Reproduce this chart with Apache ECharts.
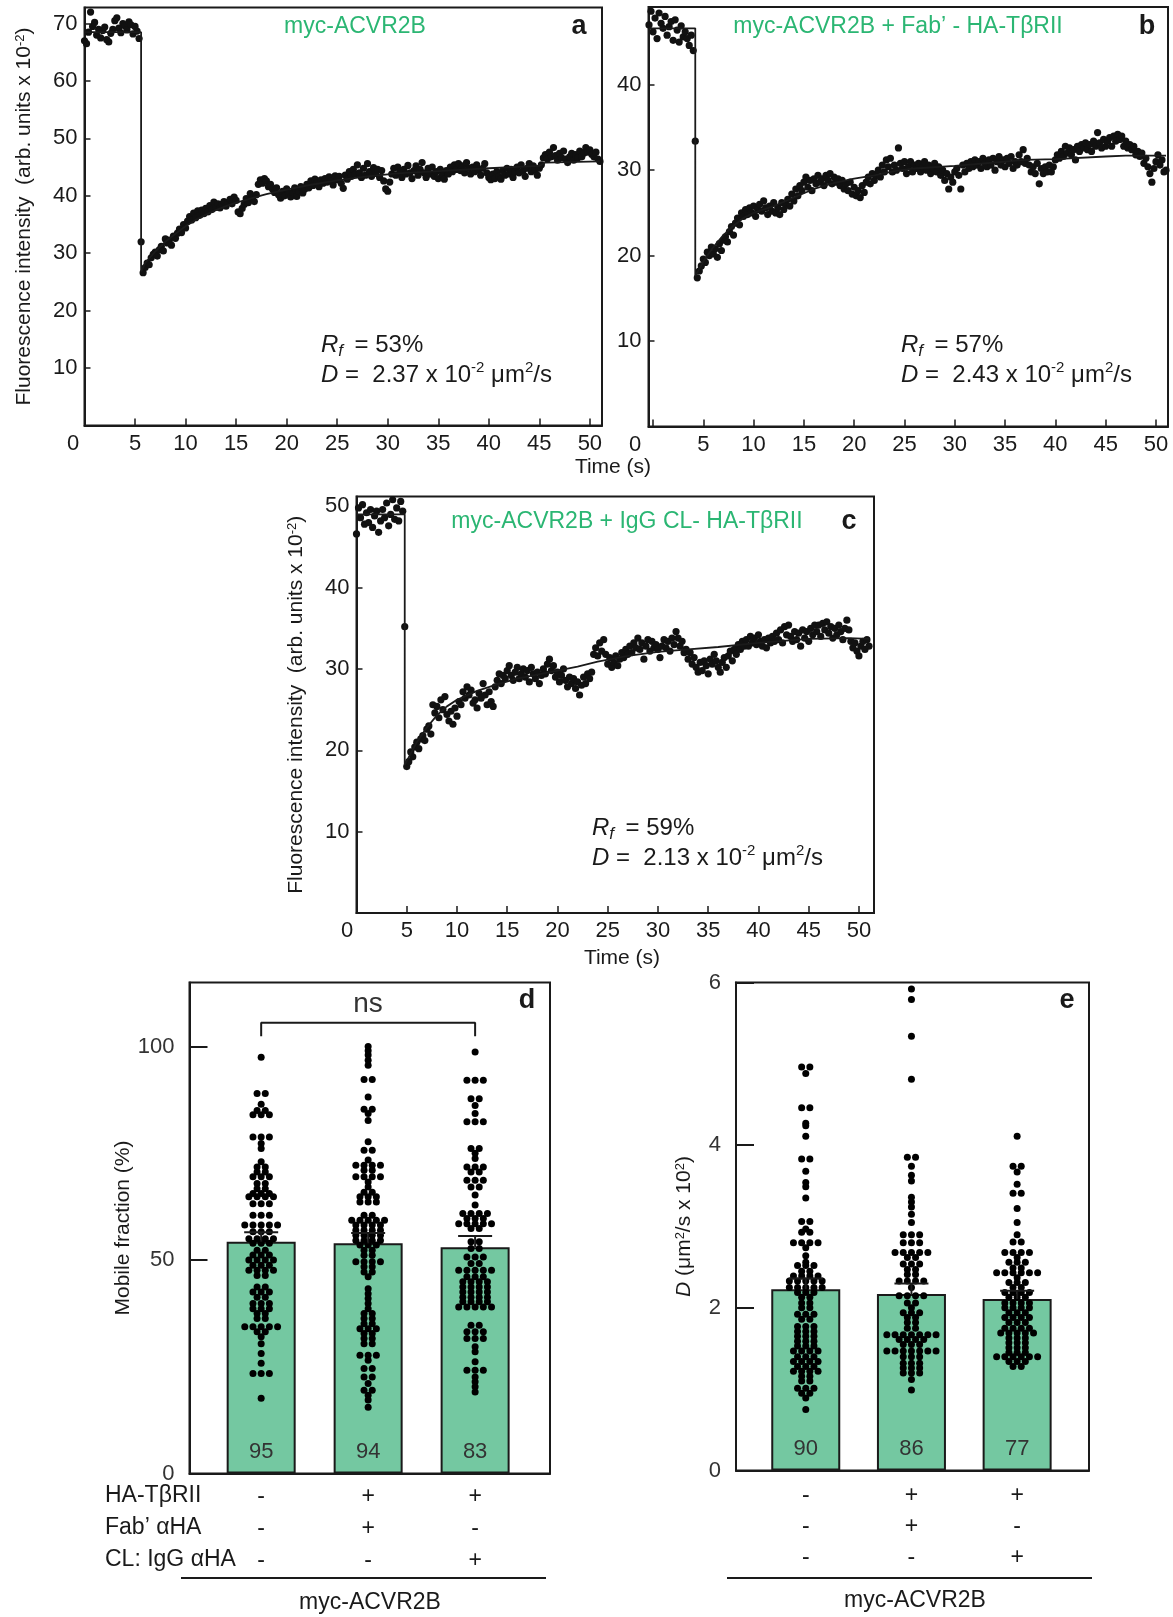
<!DOCTYPE html>
<html lang="en">
<head>
<meta charset="UTF-8">
<title>FRAP of myc-ACVR2B</title>
<script src="https://cdn.jsdelivr.net/npm/echarts@6/dist/echarts.min.js"></script>
<style>
  html, body { margin: 0; padding: 0; background: #fff; }
  #chart { width: 1173px; height: 1617px; }
</style>
</head>
<body>
<div id="chart"></div>
<script>
// frame interval of the FRAP recordings (s)
var frameStep = 0.2;
var timeTicks = [0, 5, 10, 15, 20, 25, 30, 35, 40, 45, 50];

// panel a: myc-ACVR2B
var intensityTicksA = [10, 20, 30, 40, 50, 60, 70];
var preStartA = 0;
var preA = [67.0, 66.5, 68.5, 72.0, 69.5, 70.2, 68.0, 69.0, 67.5, 68.8,
  69.4, 67.2, 66.8, 68.3, 69.0, 70.5, 71.0, 69.2, 68.4, 70.0,
  69.6, 68.9, 70.3, 69.8, 68.2, 69.5, 68.7, 67.4];
var postStartA = 5.6;
var postA = [32.0, 26.6, 27.5, 28.3, 28.0, 29.2, 29.8, 30.2, 29.5, 30.6,
  31.2, 30.4, 32.5, 31.8, 32.3, 31.4, 33.0, 32.6, 33.5, 34.2,
  33.6, 35.0, 34.4, 35.6, 36.4, 35.8, 37.0, 36.2, 37.4, 36.6,
  37.5, 36.9, 37.8, 37.2, 38.3, 37.6, 38.9, 38.0, 38.6, 37.9,
  38.5, 39.0, 38.2, 38.8, 39.4, 38.6, 39.8, 39.2, 37.2, 36.9,
  37.8, 38.5, 39.5, 38.8, 40.4, 39.6, 39.0, 40.2, 42.0, 42.8,
  42.2, 43.0, 42.6, 41.6, 42.0, 41.2, 40.6, 41.4, 40.2, 39.6,
  40.8, 40.0, 41.2, 40.4, 39.8, 40.6, 41.4, 39.9, 40.8, 41.6,
  40.5, 41.2, 42.0, 41.4, 42.6, 41.8, 42.9, 42.3, 41.6, 42.8,
  42.2, 43.0, 42.4, 43.3, 42.6, 41.9, 43.5, 42.8, 43.4, 42.2,
  41.3, 43.6, 42.9, 44.2, 43.4, 44.6, 43.8, 45.4, 44.0, 43.2,
  44.8, 43.6, 45.6, 44.2, 43.4, 44.9, 43.9, 44.6, 43.2, 44.4,
  42.6, 41.2, 40.8, 42.4, 43.8, 44.8, 43.6, 45.0, 44.2, 43.2,
  44.6, 43.8, 45.3, 44.0, 43.0, 44.4, 45.2, 43.6, 44.6, 45.8,
  44.0, 43.2, 44.8, 43.8, 45.0, 43.4, 44.2, 43.0, 44.6, 43.6,
  42.9, 44.4, 43.8, 45.0, 44.2, 45.4, 44.6, 45.6, 44.4, 45.2,
  44.0, 45.8, 44.8, 43.8, 45.0, 44.2, 45.4, 44.6, 43.6, 44.8,
  45.6, 44.0, 43.2, 42.8, 43.8, 43.0, 44.2, 43.4, 42.9, 44.4,
  43.6, 44.8, 43.8, 44.6, 43.2, 44.2, 45.0, 44.0, 45.4, 44.4,
  43.4, 44.8, 45.6, 44.2, 45.2, 44.6, 43.6, 44.8, 45.4, 46.6,
  47.2, 46.4, 47.6, 46.8, 48.4, 47.0, 46.2, 47.4, 46.6, 47.8,
  46.4, 45.8, 46.8, 47.4, 46.2, 47.2, 46.6, 47.8, 46.8, 47.4,
  48.4, 47.6, 48.0, 47.2, 46.8, 47.6, 46.4, 46.0];
var fitA = [[0, 68.5], [5.6, 68.5], [5.6, 26.8], [6, 28.3], [7, 30.3], [8, 32.0], [9, 33.4],
  [10, 34.7], [11, 35.8], [12, 36.7], [13, 37.5], [14, 38.2], [15, 38.8], [16, 39.3],
  [17, 39.8], [18, 40.3], [20, 41.1], [22, 41.8], [25, 42.7], [28, 43.4], [31, 43.9],
  [35, 44.3], [40, 44.8], [45, 45.2], [45.6, 45.8], [51, 46.0]];

// panel b: myc-ACVR2B + Fab' - HA-TβRII
var intensityTicksB = [10, 20, 30, 40];
var preStartB = -0.4;
var preB = [47.0, 48.6, 46.2, 47.8, 45.4, 48.4, 47.2, 46.6, 48.0, 45.8,
  46.8, 47.4, 45.2, 47.6, 46.4, 45.0, 46.9, 45.6, 46.2, 45.4,
  44.6, 45.8, 44.0];
var postStartB = 4.2;
var postB = [33.4,
  17.4, 18.2, 18.8, 19.6, 19.2, 20.4, 20.0, 21.0, 20.2, 20.8,
  19.8, 21.4, 20.6, 21.8, 22.2, 21.6, 22.8, 23.4, 22.4, 23.8,
  24.4, 23.6, 25.0, 24.6, 25.4, 24.8, 25.6, 25.0, 25.8, 24.6,
  25.4, 26.0, 25.2, 26.4, 25.6, 24.8, 25.8, 25.2, 26.2, 25.0,
  25.6, 24.8, 26.2, 25.4, 26.0, 26.6, 25.8, 27.2, 26.4, 27.8,
  27.0, 28.2, 27.6, 28.6, 29.2, 28.0, 28.8, 27.6, 29.0, 28.4,
  29.4, 28.6, 29.0, 28.2, 29.4, 28.8, 29.6, 28.4, 29.2, 28.6,
  29.0, 28.2, 28.8, 27.8, 28.4, 27.6, 28.6, 27.2, 28.0, 27.0,
  27.6, 26.8, 28.2, 27.4, 28.6, 29.2, 28.4, 29.6, 28.8, 29.4,
  30.0, 29.2, 30.6, 29.8, 31.2, 30.4, 31.4, 29.8, 30.6, 30.0,
  32.6, 30.8, 30.2, 31.0, 29.6, 30.4, 31.0, 29.8, 30.6, 30.2,
  30.8, 29.8, 30.4, 31.0, 30.0, 30.6, 29.6, 30.2, 30.8, 29.8,
  30.4, 29.4, 30.0, 28.8, 29.6, 27.8, 29.2, 28.6, 29.8, 30.2,
  29.4, 27.8, 30.6, 29.8, 30.8, 30.2, 31.0, 30.4, 31.2, 30.6,
  31.0, 30.2, 31.4, 30.8, 30.4, 31.2, 30.6, 31.4, 30.0, 31.0,
  31.6, 30.6, 31.2, 30.4, 31.4, 30.8, 31.6, 30.2, 31.0, 30.6,
  31.8, 31.0, 32.4, 30.8, 31.4, 30.6, 29.8, 30.4, 29.6, 30.8,
  28.4, 30.2, 29.6, 30.4, 29.8, 30.6, 29.8, 30.4, 31.2, 31.8,
  31.4, 32.2, 31.6, 32.8, 32.0, 32.6, 31.8, 32.4, 31.2, 32.8,
  32.2, 33.0, 32.6, 33.2, 32.4, 33.0, 32.2, 33.4, 32.8, 34.4,
  33.2, 32.6, 33.6, 32.8, 33.4, 33.8, 32.8, 34.0, 33.4, 34.2,
  33.6, 34.0, 32.8, 33.4, 32.6, 33.0, 32.4, 32.8, 31.8, 32.2,
  31.6, 32.0, 30.8, 31.4, 30.4, 29.6, 28.6, 30.2, 31.0, 31.8,
  30.6, 31.2, 29.8, 30.0];
var fitB = [[-0.4, 46.6], [4.2, 46.6], [4.2, 17.6], [5, 19.3], [6, 21.0], [7, 22.4], [8, 23.5],
  [9, 24.4], [10, 25.0], [12, 25.8], [14, 26.8], [16, 27.8], [18, 28.5], [20, 29.0],
  [22, 29.4], [24, 29.9], [26, 30.2], [30, 30.5], [34, 30.9], [37, 31.2], [40, 31.3],
  [45, 31.6], [47, 31.7], [51, 31.7]];

// panel c: myc-ACVR2B + IgG CL- HA-TβRII
var intensityTicksC = [10, 20, 30, 40, 50];
var preStartC = 0;
var preC = [46.6, 49.8, 48.6, 50.2, 47.8, 49.2, 48.0, 49.6, 47.4, 48.8,
  49.4, 46.8, 48.2, 49.6, 48.6, 50.4, 47.6, 49.0, 50.8, 48.4,
  49.8, 48.2, 50.6, 49.4];
var postStartC = 4.8;
var postC = [35.2, 18.0, 18.6, 19.8, 19.2, 20.4, 21.0, 20.2, 21.4, 21.8,
  21.2, 22.6, 23.0, 22.0, 25.6, 24.6, 25.4, 24.0, 26.2, 25.0,
  26.6, 24.4, 23.6, 24.8, 23.2, 25.2, 24.2, 26.0, 25.6, 27.2,
  26.4, 27.8, 26.8, 27.4, 25.8, 26.2, 25.2, 27.0, 26.4, 28.2,
  26.8, 25.6, 27.2, 26.0, 25.4, 27.8, 28.6, 29.4, 28.2, 29.2,
  28.8, 29.8, 30.4, 29.2, 28.6, 29.6, 30.2, 28.8, 29.4, 30.0,
  29.0, 29.8, 28.4, 30.2, 29.4, 28.8, 29.6, 28.2, 29.2, 30.0,
  29.4, 30.6, 31.2, 29.8, 30.4, 29.0, 29.6, 28.4, 29.2, 30.0,
  28.6, 27.8, 29.0, 28.2, 28.8, 27.6, 28.4, 26.8, 28.0, 29.0,
  28.2, 29.4, 28.8, 29.6, 31.8, 32.6, 31.6, 33.2, 32.2, 33.6,
  31.8, 30.6, 31.4, 30.2, 30.8, 31.6, 30.4, 31.2, 32.0, 31.4,
  32.4, 31.8, 32.8, 32.0, 33.2, 32.6, 33.8, 32.4, 33.2, 31.2,
  32.8, 33.6, 32.2, 33.4, 32.6, 33.0, 32.4, 31.4, 32.8, 33.6,
  32.6, 33.4, 32.2, 33.8, 33.0, 34.6, 33.8, 32.8, 33.4, 32.0,
  32.4, 31.2, 32.0, 30.6, 31.4, 30.2, 29.6, 30.8, 29.8, 31.0,
  30.4, 29.4, 31.2, 30.6, 31.8, 31.0, 30.2, 29.6, 30.8, 31.4,
  30.2, 31.6, 32.2, 31.0, 32.4, 31.8, 33.0, 32.4, 33.4, 32.8,
  33.6, 32.8, 34.0, 33.2, 33.8, 33.0, 34.2, 33.4, 32.8, 33.6,
  32.6, 33.8, 33.2, 34.0, 33.4, 34.4, 33.6, 34.8, 33.2, 35.2,
  34.2, 35.4, 34.0, 33.4, 34.6, 33.6, 34.4, 32.8, 34.8, 33.8,
  34.6, 33.4, 35.0, 34.2, 35.4, 34.6, 35.4, 34.0, 35.6, 34.8,
  35.8, 34.4, 35.2, 33.8, 35.0, 34.2, 35.4, 34.6, 33.6, 35.0,
  36.0, 34.8, 33.4, 32.6, 33.2, 32.2, 31.6, 32.8, 33.4, 32.4,
  33.6, 32.8];
var fitC = [[0, 49.0], [4.8, 49.0], [4.8, 18.2], [6, 21.0], [7, 22.8], [8, 24.3], [9, 25.4],
  [10, 26.2], [12, 27.3], [14, 28.1], [16, 28.8], [18, 29.3], [20, 29.8], [22, 30.3],
  [24, 30.9], [27, 31.6], [30, 32.1], [33, 32.4], [36, 32.7], [40, 33.2], [45, 33.7],
  [49, 33.8], [51, 33.7]];

// panels d and e: three conditions
var haRow = ['-', '+', '+'];
var fabRow = ['-', '+', '-'];
var clRow = ['-', '-', '+'];
var rowNames = ['HA-T\u03b2RII', 'Fab\u2019 \u03b1HA', 'CL: IgG \u03b1HA'];

var mobileMean = [54.3, 53.9, 53.0];
var mobileSem = [2.2, 2.4, 2.6];
var mobileN = [95, 94, 83];
var mobileTicks = [0, 50, 100];
var nsBracket = [[0, 102.4], [0, 105.6], [2, 105.6], [2, 102.4]];
var mobile1 = [97.5, 89, 89, 86.5, 85, 85, 84, 84, 84, 78.8, 78.8, 78.8, 77.3, 76.1, 73,
  71.8, 71.8, 70.6, 70.6, 69.5, 69.5, 69.5, 67.9, 67.9, 66.7, 66.7, 65.6, 65.6, 65.6,
  64.8, 64.8, 64.8, 64.8, 63.2, 63.2, 63.2, 60.5, 60.5, 60.5, 58.2, 58.2, 58.2, 58.2, 58.2,
  56.6, 56.6, 56.6, 55, 55, 55, 55, 53.9, 53.9, 53.9, 52.3, 52.3, 51.2, 51.2, 51.2,
  50, 50, 50, 50, 48.8, 48.8, 48.8, 47.6, 47.6, 47.6, 47.6, 46.4, 46.4, 43.7, 43.7,
  42.5, 42.5, 42.5, 41.3, 41.3, 39.8, 39.8, 39.8, 38.6, 38.6, 38.6, 37.5, 37.5, 36.3, 36.3,
  34.4, 34.4, 34.4, 34.4, 34.4, 33.2, 33.2, 32, 30.4, 28.1, 25.8, 23.4, 23.4, 23.4, 17.6];
var mobile2 = [100, 99, 98, 96.8, 95.6, 92.3, 92.3, 88.2, 85.3, 85.3, 84.3, 82.7, 77.7,
  75.7, 75.7, 73.4, 72.2, 72.2, 72.2, 72.2, 71, 71, 69.5, 69.5, 69.5, 69.5, 68.3, 67.1,
  65.9, 65.9, 64.8, 64.8, 64.8, 63.6, 63.6, 63.6, 60.5, 60.5, 59.3, 59.3, 59.3, 59.3, 59.3,
  58.2, 58.2, 58.2, 58.2, 57, 57, 57, 57, 55.8, 55.8, 55.8, 55.8, 54.6, 54.6, 54.6, 54.6,
  53.5, 53.5, 53.5, 52.3, 52.3, 51.1, 51.1, 49.6, 49.6, 49.6, 49.6, 48.4, 48.4, 47.2, 47.2,
  46.1, 43.3, 42.1, 41, 39.8, 38.6, 37.5, 37.5, 36.3, 36.3, 35.1, 35.1, 33.9, 33.9, 33.9,
  32.8, 32.8, 31.6, 31.6, 30.4, 30.4, 27.7, 27.7, 27.7, 26.5, 24.6, 24.6, 22.6, 22.6,
  21.1, 19.5, 19.5, 18.3, 17.2, 15.5];
var mobile3 = [98.7, 92.1, 92.1, 92.1, 87.8, 87.8, 86.2, 84.3, 82.4, 82.4, 82.4, 76.1, 76.1,
  75, 73.8, 71.8, 71.8, 71.8, 70.6, 70.6, 68.7, 68.7, 68.7, 67.1, 67.1, 65.2, 62.9,
  60.9, 60.9, 60.9, 60.9, 59.7, 59.7, 59.7, 58.5, 58.5, 58.5, 58.5, 58.5, 57.4, 57.4,
  54.3, 54.3, 52.7, 52.7, 50.7, 50.7, 50.7, 49.2, 49.2, 47.6, 47.6, 47.6, 47.6, 47.6,
  46.1, 46.1, 46.1, 44.9, 44.9, 44.9, 44.9, 43.7, 43.7, 43.7, 43.7, 42.5, 42.5, 42.5, 42.5,
  41.3, 41.3, 41.3, 41.3, 40.2, 40.2, 40.2, 40.2, 39, 39, 39, 39, 39, 34.7, 34.7,
  33.2, 33.2, 33.2, 31.6, 31.6, 31.6, 29.7, 28.5, 26.2, 24.2, 24.2, 24.2, 22.6, 21.5,
  20.3, 19.1];

var diffMean = [2.23, 2.17, 2.11];
var diffSem = [0.13, 0.13, 0.10];
var diffN = [90, 86, 77];
var diffTicks = [0, 2, 4, 6];
var diff1 = [4.96, 4.96, 4.88, 4.46, 4.46, 4.27, 4.24, 4.11, 3.83, 3.83, 3.68, 3.54, 3.49,
  3.35, 3.06, 3.06, 2.97, 2.93, 2.93, 2.8, 2.8, 2.8, 2.8, 2.74, 2.64, 2.56, 2.52, 2.52,
  2.52, 2.45, 2.45, 2.39, 2.39, 2.39, 2.39, 2.33, 2.33, 2.33, 2.33, 2.33, 2.25, 2.25,
  2.25, 2.25, 2.25, 2.19, 2.19, 2.19, 2.13, 2.13, 2.06, 2.06, 2.0, 2.0, 1.92, 1.92, 1.92,
  1.86, 1.86, 1.77, 1.77, 1.77, 1.71, 1.71, 1.71, 1.65, 1.65, 1.65, 1.59, 1.59, 1.59,
  1.53, 1.53, 1.53, 1.47, 1.47, 1.47, 1.47, 1.4, 1.4, 1.4, 1.34, 1.34, 1.34, 1.34,
  1.28, 1.28, 1.28, 1.22, 1.22, 1.22, 1.22, 1.16, 1.16, 1.1, 1.1, 1.01, 1.01, 1.01,
  0.95, 0.95, 0.89, 0.75];
var diff2 = [5.92, 5.79, 5.34, 4.81, 3.85, 3.85, 3.74, 3.63, 3.56, 3.36, 3.3, 3.24, 3.15,
  3.05, 2.9, 2.9, 2.9, 2.8, 2.8, 2.8, 2.68, 2.68, 2.68, 2.68, 2.68, 2.62, 2.62, 2.54,
  2.54, 2.54, 2.47, 2.47, 2.41, 2.41, 2.33, 2.33, 2.33, 2.33, 2.25, 2.15, 2.15, 2.15,
  2.15, 2.06, 2.06, 2.0, 1.94, 1.94, 1.94, 1.88, 1.88, 1.82, 1.82, 1.75, 1.75,
  1.67, 1.67, 1.67, 1.67, 1.67, 1.67, 1.67, 1.61, 1.61, 1.61, 1.61, 1.55, 1.55, 1.55,
  1.47, 1.47, 1.47, 1.47, 1.47, 1.47, 1.47, 1.4, 1.4, 1.4, 1.32, 1.32, 1.32, 1.26, 1.26,
  1.26, 1.2, 1.2, 1.2, 1.12, 0.99];
var diff3 = [4.11, 3.74, 3.74, 3.67, 3.52, 3.41, 3.41, 3.22, 3.05, 2.9, 2.81, 2.81, 2.68,
  2.68, 2.68, 2.68, 2.62, 2.56, 2.56, 2.56, 2.49, 2.49, 2.43, 2.43, 2.43, 2.43, 2.43, 2.43,
  2.37, 2.31, 2.31, 2.31, 2.25, 2.25, 2.19, 2.19, 2.19, 2.19, 2.13, 2.13, 2.13, 2.06, 2.06,
  2.06, 2.06, 2.0, 2.0, 2.0, 2.0, 1.94, 1.94, 1.94, 1.88, 1.88, 1.88, 1.88, 1.82, 1.82,
  1.82, 1.75, 1.75, 1.75, 1.75, 1.69, 1.69, 1.69, 1.69, 1.69, 1.63, 1.63, 1.63, 1.57,
  1.57, 1.57, 1.51, 1.51, 1.51, 1.45, 1.45, 1.45, 1.4, 1.4, 1.4, 1.4, 1.4, 1.4, 1.34,
  1.34, 1.34, 1.28, 1.28];

var FONT = '"Liberation Sans", Arial, Helvetica, sans-serif';
var INK = '#1a1a1a';
var GREEN = '#2bb673';
var BAR = '#74c8a1';

// time stamps for a trace that starts at t0
function trace(t0, values) {
  return values.map(function (v, i) {
    return [Math.round((t0 + i * frameStep) * 100) / 100, v];
  });
}

// dot plot: equal values sit side by side, centred on the bar
function swarm(cols, pxPerUnit, gapPx) {
  var out = [];
  cols.forEach(function (col, i) {
    var groups = {};
    var order = [];
    col.forEach(function (v) {
      if (!groups[v]) { groups[v] = 0; order.push(v); }
      groups[v]++;
    });
    order.forEach(function (v) {
      var n = groups[v];
      for (var j = 0; j < n; j++) {
        out.push([i + (j - (n - 1) / 2) * gapPx / pxPerUnit, v]);
      }
    });
  });
  return out;
}

var gridBox = [
  { left: 84.5, top: 7.5, width: 517.5, height: 418 },
  { left: 648.5, top: 7, width: 519.5, height: 419.5 },
  { left: 356.5, top: 496.5, width: 517.5, height: 416.5 },
  { left: 189.5, top: 982.5, width: 360.5, height: 491 },
  { left: 736, top: 982.5, width: 353, height: 488 }
];
var xRange = [[0, 51.2], [-0.45, 51.2], [0, 51.5], [-0.67, 2.70], [-0.66, 2.68]];

function axisLine() {
  return { show: true, onZero: false, lineStyle: { color: INK, width: 2 } };
}

function timeAxis(gi, zeroPad) {
  return {
    type: 'value', gridIndex: gi, min: xRange[gi][0], max: xRange[gi][1],
    axisLine: axisLine(),
    axisTick: { show: true, inside: true, length: 7, customValues: timeTicks,
      lineStyle: { color: INK, width: 1.5 } },
    axisLabel: {
      customValues: timeTicks, color: INK, fontSize: 22, margin: 7, fontFamily: FONT,
      formatter: function (v) { return v === 0 ? '{z|0}' : String(v); },
      rich: { z: { fontSize: 22, color: INK, fontFamily: FONT, padding: [0, zeroPad, 0, 0] } }
    },
    splitLine: { show: false }
  };
}

var intensityName = '{t|Fluorescence intensity  (arb. units x 10}{s|-2}{t|)}';
var nameRich = {
  t: { fontSize: 21, color: INK, fontFamily: FONT },
  s: { fontSize: 13, color: INK, fontFamily: FONT, verticalAlign: 'top' },
  i: { fontSize: 21, color: INK, fontFamily: FONT, fontStyle: 'italic' }
};

function intensityAxis(gi, max, ticks, withName) {
  var ax = {
    type: 'value', gridIndex: gi, min: 0, max: max,
    axisLine: axisLine(),
    axisTick: { show: true, inside: true, length: 6, customValues: ticks,
      lineStyle: { color: INK, width: 1.5 } },
    axisLabel: { customValues: ticks, color: INK, fontSize: 22, margin: 7, fontFamily: FONT },
    splitLine: { show: false }
  };
  if (withName) {
    ax.name = intensityName;
    ax.nameLocation = 'middle';
    ax.nameRotate = 90;
    ax.nameGap = 50;
    ax.nameTextStyle = { rich: nameRich };
  }
  return ax;
}

function groupAxis(gi, lineH, margin) {
  return {
    type: 'value', gridIndex: gi, min: xRange[gi][0], max: xRange[gi][1],
    axisLine: axisLine(),
    axisTick: { show: false },
    axisLabel: {
      customValues: [0, 1, 2], color: INK, fontSize: 23, fontFamily: FONT,
      lineHeight: lineH, margin: margin, verticalAlign: 'top',
      formatter: function (v) { return [haRow[v], fabRow[v], clRow[v]].join('\n'); }
    },
    splitLine: { show: false }
  };
}

function measureAxis(gi, max, ticks, name, gap) {
  return {
    type: 'value', gridIndex: gi, min: 0, max: max,
    axisLine: axisLine(),
    axisTick: { show: true, inside: true, length: 18, customValues: ticks,
      lineStyle: { color: INK, width: 2 } },
    axisLabel: { customValues: ticks, color: '#333', fontSize: 22, margin: 15, fontFamily: FONT },
    splitLine: { show: false },
    name: name, nameLocation: 'middle', nameRotate: 90, nameGap: gap,
    nameTextStyle: { rich: nameRich }
  };
}

function traceSeries(gi, pre, post) {
  return {
    type: 'scatter', xAxisIndex: gi, yAxisIndex: gi, data: pre.concat(post),
    symbolSize: 7.2, itemStyle: { color: '#111', opacity: 1 }, z: 3
  };
}

function fitSeries(gi, fit) {
  return {
    type: 'line', xAxisIndex: gi, yAxisIndex: gi, data: fit, showSymbol: false,
    lineStyle: { color: INK, width: 1.8 }, z: 4
  };
}

function barSeries(gi, means, counts) {
  return {
    type: 'bar', xAxisIndex: gi, yAxisIndex: gi, barWidth: 69,
    data: means.map(function (m, i) { return [i, m]; }),
    itemStyle: { color: BAR, borderColor: INK, borderWidth: 2 },
    label: {
      show: true, position: 'insideBottom', distance: 11, color: '#333',
      fontSize: 22, fontFamily: FONT,
      formatter: function (p) { return String(counts[p.dataIndex]); }
    },
    z: 2
  };
}

function dotSeries(gi, cols) {
  var b = gridBox[gi];
  var pxPerUnit = b.width / (xRange[gi][1] - xRange[gi][0]);
  return {
    type: 'scatter', xAxisIndex: gi, yAxisIndex: gi, data: swarm(cols, pxPerUnit, 8.2),
    symbolSize: 7, itemStyle: { color: '#000', opacity: 1 }, z: 3
  };
}

function errorSeries(gi, means, sems) {
  return {
    type: 'custom', xAxisIndex: gi, yAxisIndex: gi, z: 5,
    data: means.map(function (m, i) { return [i, m, m + sems[i]]; }),
    encode: { x: 0, y: [1, 2] },
    renderItem: function (params, api) {
      var base = api.coord([api.value(0), api.value(1)]);
      var top = api.coord([api.value(0), api.value(2)]);
      var st = { stroke: INK, lineWidth: 2 };
      return {
        type: 'group',
        children: [
          { type: 'line', shape: { x1: base[0], y1: base[1], x2: top[0], y2: top[1] }, style: st },
          { type: 'line', shape: { x1: top[0] - 17, y1: top[1], x2: top[0] + 17, y2: top[1] }, style: st }
        ]
      };
    }
  };
}

function label(x, y, text, size, opts) {
  var s = Object.assign({ text: text, fontSize: size, fontFamily: FONT, fill: INK,
    align: 'center', verticalAlign: 'middle' }, opts || {});
  return { type: 'text', x: x, y: y, style: s, z: 10 };
}

var statRich = {
  i: { fontSize: 24, fontStyle: 'italic', fontFamily: FONT, fill: INK, lineHeight: 30 },
  f: { fontSize: 17, fontStyle: 'italic', fontFamily: FONT, fill: INK, verticalAlign: 'bottom' },
  n: { fontSize: 24, fontFamily: FONT, fill: INK, lineHeight: 30 },
  s: { fontSize: 15, fontFamily: FONT, fill: INK, verticalAlign: 'top' }
};
function stats(x, y, rf, d) {
  return {
    type: 'text', x: x, y: y, z: 10,
    style: {
      text: '{i|R}{f|f}{n| \u2009= ' + rf + '%}\n{i|D}{n| =  ' + d + ' x 10}{s|-2}{n| \u03bcm}{s|2}{n|/s}',
      rich: statRich, align: 'left', verticalAlign: 'top', fill: INK
    }
  };
}

var chart = echarts.init(document.getElementById('chart'), null, { renderer: 'canvas' });

chart.setOption({
  animation: false,
  backgroundColor: '#fff',
  textStyle: { fontFamily: FONT },
  grid: gridBox.map(function (g) {
    return Object.assign({ show: true, borderColor: INK, borderWidth: 2,
      backgroundColor: 'transparent', outerBoundsMode: 'none', containLabel: false }, g);
  }),
  xAxis: [
    timeAxis(0, 23),
    timeAxis(1, 36),
    timeAxis(2, 19),
    groupAxis(3, 32, 7),
    groupAxis(4, 31, 10)
  ],
  yAxis: [
    intensityAxis(0, 72.8, intensityTicksA, true),
    intensityAxis(1, 49.1, intensityTicksB, false),
    intensityAxis(2, 51.2, intensityTicksC, true),
    measureAxis(3, 115, mobileTicks, '{t|Mobile fraction (%)}', 52),
    measureAxis(4, 6, diffTicks, '{i|D}{t| (\u03bcm}{s|2}{t|/s x 10}{s|2}{t|)}', 41)
  ],
  series: [
    traceSeries(0, trace(preStartA, preA), trace(postStartA, postA)),
    fitSeries(0, fitA),
    traceSeries(1, trace(preStartB, preB), trace(postStartB, postB)),
    fitSeries(1, fitB),
    traceSeries(2, trace(preStartC, preC), trace(postStartC, postC)),
    fitSeries(2, fitC),
    barSeries(3, mobileMean, mobileN),
    dotSeries(3, [mobile1, mobile2, mobile3]),
    errorSeries(3, mobileMean, mobileSem),
    {
      type: 'line', xAxisIndex: 3, yAxisIndex: 3, data: nsBracket, showSymbol: false,
      lineStyle: { color: INK, width: 2 }, z: 5
    },
    barSeries(4, diffMean, diffN),
    dotSeries(4, [diff1, diff2, diff3]),
    errorSeries(4, diffMean, diffSem)
  ],
  graphic: [
    label(355, 27, 'myc-ACVR2B', 23, { fill: GREEN }),
    label(898, 27, 'myc-ACVR2B + Fab\u2019 - HA-T\u03b2RII', 23, { fill: GREEN }),
    label(627, 522, 'myc-ACVR2B + IgG CL- HA-T\u03b2RII', 23, { fill: GREEN }),
    label(579, 27, 'a', 27, { fontWeight: 'bold' }),
    label(1147, 27, 'b', 27, { fontWeight: 'bold' }),
    label(849, 522, 'c', 27, { fontWeight: 'bold' }),
    label(527, 1001, 'd', 27, { fontWeight: 'bold' }),
    label(1067, 1001, 'e', 27, { fontWeight: 'bold' }),
    stats(321, 330, 53, '2.37'),
    stats(901, 330, 57, '2.43'),
    stats(592, 813, 59, '2.13'),
    label(613, 467, 'Time (s)', 21),
    label(622, 958, 'Time (s)', 21),
    label(368, 1004, 'ns', 28, { fill: '#333' }),
    label(105, 1496, rowNames[0], 23, { align: 'left' }),
    label(105, 1528, rowNames[1], 23, { align: 'left' }),
    label(105, 1560, rowNames[2], 23, { align: 'left' }),
    { type: 'line', shape: { x1: 181, y1: 1578, x2: 546, y2: 1578 }, style: { stroke: INK, lineWidth: 2 } },
    { type: 'line', shape: { x1: 727, y1: 1578, x2: 1092, y2: 1578 }, style: { stroke: INK, lineWidth: 2 } },
    label(370, 1603, 'myc-ACVR2B', 23),
    label(915, 1601, 'myc-ACVR2B', 23)
  ]
});
</script>
</body>
</html>
